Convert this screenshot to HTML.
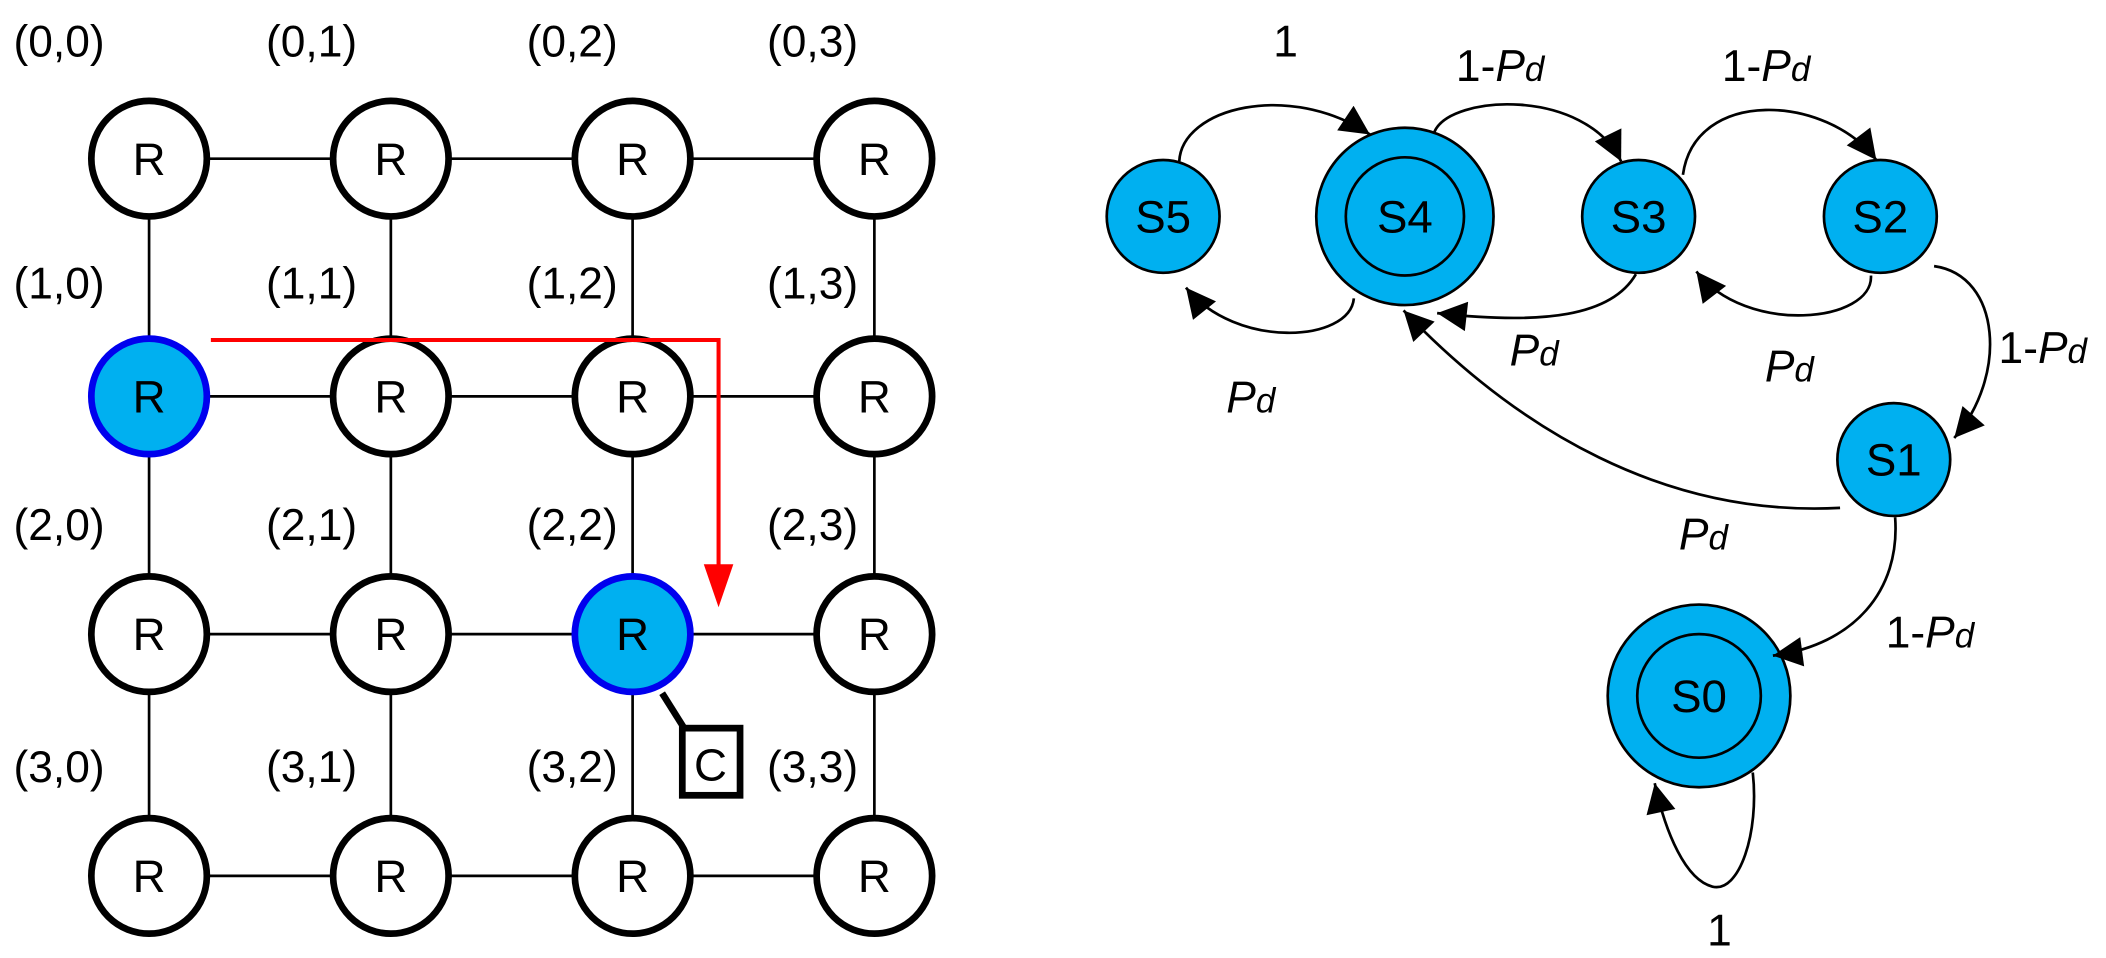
<!DOCTYPE html>
<html><head><meta charset="utf-8"><style>html,body{margin:0;padding:0;background:#fff}svg{display:block}</style></head>
<body>
<svg width="2106" height="958" viewBox="0 0 1568 713" xmlns="http://www.w3.org/2000/svg" font-family="Liberation Sans, sans-serif">
<defs>
<marker id="ab" viewBox="0 0 10 10" refX="10" refY="5" markerWidth="26" markerHeight="22" markerUnits="userSpaceOnUse" orient="auto"><path d="M0,0L10,5L0,10z" fill="#000"/></marker>
</defs>
<g stroke="#000" stroke-width="2">
<line x1="111" y1="118" x2="651" y2="118"/><line x1="111" y1="295" x2="651" y2="295"/>
<line x1="111" y1="472" x2="651" y2="472"/><line x1="111" y1="652" x2="651" y2="652"/>
<line x1="111" y1="118" x2="111" y2="652"/><line x1="291" y1="118" x2="291" y2="652"/>
<line x1="471" y1="118" x2="471" y2="652"/><line x1="651" y1="118" x2="651" y2="652"/>
</g>
<g stroke="#000" stroke-width="5" fill="#fff">
<circle cx="111" cy="118" r="43"/><circle cx="291" cy="118" r="43"/><circle cx="471" cy="118" r="43"/><circle cx="651" cy="118" r="43"/>
<circle cx="291" cy="295" r="43"/><circle cx="471" cy="295" r="43"/><circle cx="651" cy="295" r="43"/>
<circle cx="111" cy="472" r="43"/><circle cx="291" cy="472" r="43"/><circle cx="651" cy="472" r="43"/>
<circle cx="111" cy="652" r="43"/><circle cx="291" cy="652" r="43"/><circle cx="471" cy="652" r="43"/><circle cx="651" cy="652" r="43"/>
</g>
<circle cx="111" cy="295" r="43" fill="#00b0f0" stroke="#0000ee" stroke-width="5"/>
<circle cx="471" cy="472" r="43" fill="#00b0f0" stroke="#0000ee" stroke-width="5"/>
<g font-size="34" text-anchor="middle">
<text x="111" y="130">R</text><text x="291" y="130">R</text><text x="471" y="130">R</text><text x="651" y="130">R</text>
<text x="111" y="307">R</text><text x="291" y="307">R</text><text x="471" y="307">R</text><text x="651" y="307">R</text>
<text x="111" y="484">R</text><text x="291" y="484">R</text><text x="471" y="484">R</text><text x="651" y="484">R</text>
<text x="111" y="664">R</text><text x="291" y="664">R</text><text x="471" y="664">R</text><text x="651" y="664">R</text>
</g>
<g font-size="33" text-anchor="middle">
<text x="44" y="42">(0,0)</text><text x="232" y="42">(0,1)</text><text x="426" y="42">(0,2)</text><text x="605" y="42">(0,3)</text>
<text x="44" y="222">(1,0)</text><text x="232" y="222">(1,1)</text><text x="426" y="222">(1,2)</text><text x="605" y="222">(1,3)</text>
<text x="44" y="402">(2,0)</text><text x="232" y="402">(2,1)</text><text x="426" y="402">(2,2)</text><text x="605" y="402">(2,3)</text>
<text x="44" y="582">(3,0)</text><text x="232" y="582">(3,1)</text><text x="426" y="582">(3,2)</text><text x="605" y="582">(3,3)</text>
</g>
<polyline points="157,253 535,253 535,425" fill="none" stroke="#f00" stroke-width="3"/>
<path d="M524,420L546,420L535,452z" fill="#f00"/>
<line x1="493" y1="516" x2="510" y2="543" stroke="#000" stroke-width="5"/>
<rect x="508" y="542" width="43" height="50" fill="#fff" stroke="#000" stroke-width="5"/>
<text x="529" y="581" font-size="34" text-anchor="middle">C</text>

<g fill="#00b0f0" stroke="#000" stroke-width="2">
<circle cx="866" cy="161" r="42"/>
<circle cx="1046" cy="161" r="66"/><circle cx="1046" cy="161" r="44"/>
<circle cx="1220" cy="161" r="42"/>
<circle cx="1400" cy="161" r="42"/>
<circle cx="1410" cy="342" r="42"/>
<circle cx="1265" cy="518" r="68"/><circle cx="1265" cy="518" r="46"/>
</g>
<g font-size="34" text-anchor="middle">
<text x="866" y="173">S5</text><text x="1046" y="173">S4</text><text x="1220" y="173">S3</text>
<text x="1400" y="173">S2</text><text x="1410" y="354">S1</text><text x="1265" y="530">S0</text>
</g>
<g fill="none" stroke="#000" stroke-width="2">
<path d="M878,120 C880,80 960,60 1020,100" marker-end="url(#ab)"/>
<path d="M1008,222 C1005,255 920,260 883,214" marker-end="url(#ab)"/>
<path d="M1068,98 C1080,70 1180,65 1207,120" marker-end="url(#ab)"/>
<path d="M1218,204 C1200,235 1150,242 1070,233" marker-end="url(#ab)"/>
<path d="M1253,130 C1262,65 1360,70 1397,119" marker-end="url(#ab)"/>
<path d="M1393,205 C1395,240 1300,250 1263,202" marker-end="url(#ab)"/>
<path d="M1440,198 C1490,205 1495,280 1455,326" marker-end="url(#ab)"/>
<path d="M1370,378 C1240,385 1130,320 1045,231" marker-end="url(#ab)"/>
<path d="M1411,385 C1415,440 1380,480 1320,488" marker-end="url(#ab)"/>
<path d="M1305,575 C1310,620 1295,665 1275,660 C1255,655 1240,620 1232,583" marker-end="url(#ab)"/>
</g>
<g font-size="33">
<text x="948" y="42">1</text>
<text x="1084" y="60">1-<tspan font-style="italic">P</tspan><tspan font-style="italic" font-size="26">d</tspan></text>
<text x="1282" y="60">1-<tspan font-style="italic">P</tspan><tspan font-style="italic" font-size="26">d</tspan></text>
<text x="1488" y="270">1-<tspan font-style="italic">P</tspan><tspan font-style="italic" font-size="26">d</tspan></text>
<text x="1404" y="482">1-<tspan font-style="italic">P</tspan><tspan font-style="italic" font-size="26">d</tspan></text>
<text x="913" y="307" font-style="italic">P<tspan font-size="26">d</tspan></text>
<text x="1124" y="272" font-style="italic">P<tspan font-size="26">d</tspan></text>
<text x="1314" y="284" font-style="italic">P<tspan font-size="26">d</tspan></text>
<text x="1250" y="409" font-style="italic">P<tspan font-size="26">d</tspan></text>
<text x="1271" y="704">1</text>
</g>
</svg>
</body></html>
